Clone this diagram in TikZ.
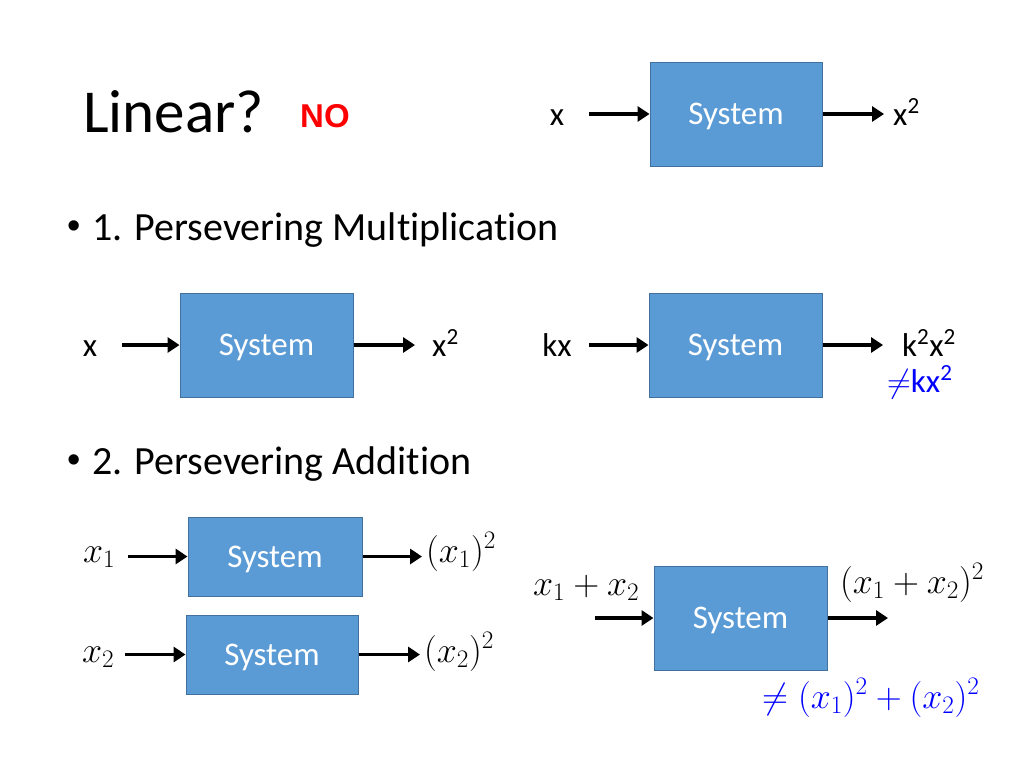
\RequirePackage{fix-cm}
\documentclass[tikz,border=0pt]{standalone}
\usepackage{fontspec}
\setmainfont{Carlito}[Ligatures=NoCommon]
\newfontfamily\arialfont{Liberation Sans}
\usetikzlibrary{arrows.meta}
\definecolor{sysfill}{HTML}{5B9BD5}
\definecolor{sysedge}{HTML}{41719C}
\definecolor{nored}{HTML}{FF0000}
\definecolor{neqblue}{HTML}{0000FF}
\tikzset{
  sysbox/.style={draw=sysedge, line width=1pt, fill=sysfill, text=white,
    minimum width=172pt, minimum height=104pt, inner sep=0pt, text depth=0pt,
    font=\fontsize{33}{40}\selectfont},
  sig/.style={line width=3.5pt, -{Triangle[length=12pt,width=15pt]}},
  lbl/.style={inner sep=0pt, anchor=base west, font=\fontsize{33}{40}\selectfont},
  mlbl/.style={lbl, font=\fontsize{36}{43}\selectfont},
  bul/.style={inner sep=0pt, anchor=base west, font=\fontsize{40}{48}\selectfont},
  dot/.style={inner sep=0pt, anchor=base west, font=\arialfont\fontsize{38}{44}\selectfont}
}
\begin{document}
\begin{tikzpicture}[x=1pt,y=-1pt]
\useasboundingbox (0,0) rectangle (1024,768);
% heading
\node [inner sep=0pt, anchor=base west, font=\fontsize{61}{72}\selectfont] (title) at (83,132) {Linear?};
\node [inner sep=0pt, anchor=base west, text=nored, font=\arialfont\bfseries\fontsize{33}{40}\selectfont] (no) at (300,127) {NO};
\node [dot] (bulA) at (67,238) {\textbullet};
\node [bul] (itemA) at (92,240) {1. Persevering Multiplication};
\node [dot] (bulB) at (67,472) {\textbullet};
\node [bul] (itemB) at (92,474) {2. Persevering Addition};
% boxes
\node [sysbox] (sysA) at (736,114) {System};
\node [sysbox, minimum width=173pt] (sysB) at (266.5,345) {System};
\node [sysbox, minimum width=173pt] (sysC) at (735.5,345) {System};
\node [sysbox, minimum width=174pt, minimum height=79pt] (sysD) at (275,556.5) {System};
\node [sysbox, minimum height=79pt] (sysE) at (272,654.5) {System};
\node [sysbox, minimum width=173pt] (sysF) at (740.5,618) {System};
% labels
\node [lbl, anchor=base] (inA) at (557,125) {x};
\node [lbl] (outA) at (893,125) {x\textsuperscript{2}};
\node [lbl, anchor=base] (inB) at (90,356) {x};
\node [lbl] (outB) at (432,356) {x\textsuperscript{2}};
\node [lbl, anchor=base] (inC) at (557,356) {kx};
\node [lbl] (outC) at (902,356) {k\textsuperscript{2}x\textsuperscript{2}};
\node [lbl, text=neqblue] (neqC) at (887,392) {$\neq$kx\textsuperscript{2}};
\node [mlbl] (inD) at (83,562) {$x_1$};
\node [mlbl] (outD) at (426,562) {$(x_1)^2$};
\node [mlbl] (inE) at (82,662) {$x_2$};
\node [mlbl] (outE) at (424,662) {$(x_2)^2$};
\node [mlbl] (inF) at (533,595) {$x_1+x_2$};
\node [mlbl] (outF) at (840,593) {$(x_1+x_2)^2$};
\node [mlbl, text=neqblue] (neqF) at (762,708) {$\neq(x_1)^2+(x_2)^2$};
% arrows
\coordinate (tA) at (589,114);
\coordinate (hA) at (884,114);
\coordinate (tB) at (122,345);
\coordinate (hB) at (415,345);
\coordinate (tC) at (589,345);
\coordinate (hC) at (883,345);
\coordinate (tD) at (128,556.5);
\coordinate (hD) at (422,556.5);
\coordinate (tE) at (125,654.5);
\coordinate (hE) at (420,654.5);
\coordinate (tF) at (595,618);
\coordinate (hF) at (888,618);
\draw [sig] (tA) -- (sysA.west);
\draw [sig] (sysA.east) -- (hA);
\draw [sig] (tB) -- (sysB.west);
\draw [sig] (sysB.east) -- (hB);
\draw [sig] (tC) -- (sysC.west);
\draw [sig] (sysC.east) -- (hC);
\draw [sig] (tD) -- (sysD.west);
\draw [sig] (sysD.east) -- (hD);
\draw [sig] (tE) -- (sysE.west);
\draw [sig] (sysE.east) -- (hE);
\draw [sig] (tF) -- (sysF.west);
\draw [sig] (sysF.east) -- (hF);
\end{tikzpicture}
\end{document}
